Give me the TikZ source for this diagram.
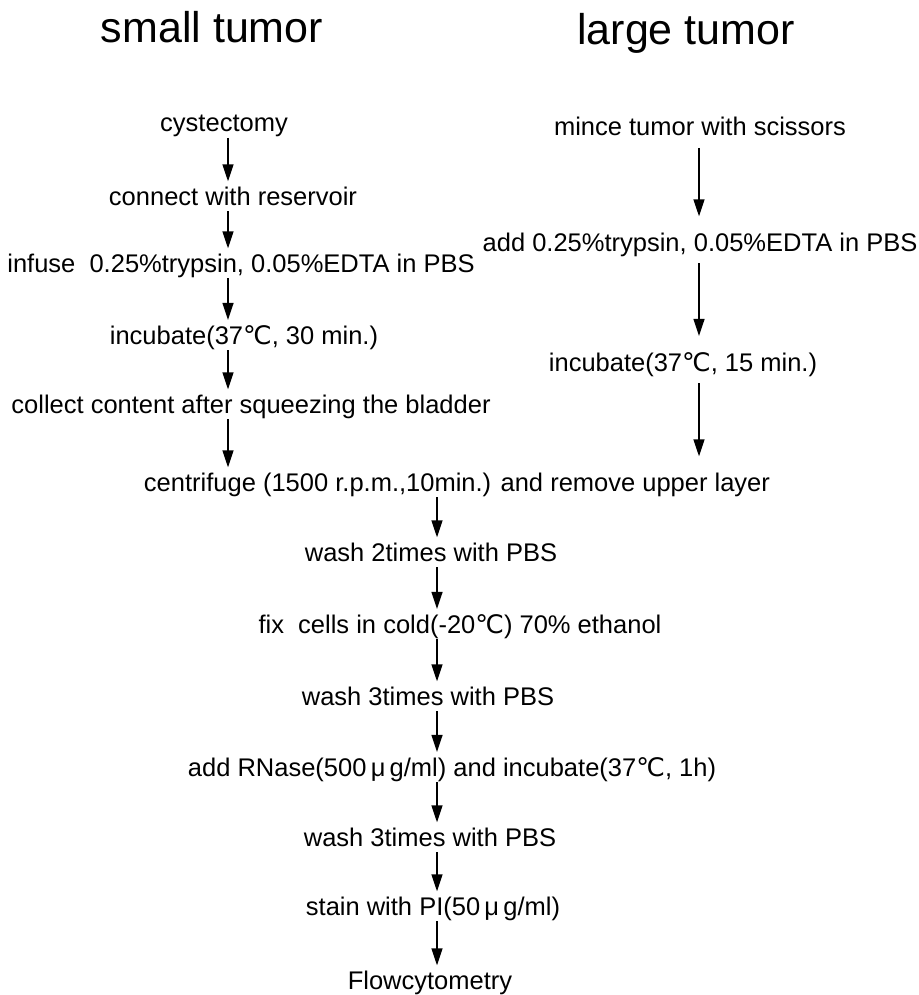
\documentclass[tikz,border=0pt]{standalone}
\usepackage{fontspec}
\setmainfont{Liberation Sans}
\newfontfamily\symfont{DejaVu Sans}
\usetikzlibrary{arrows.meta}
\newcommand{\degc}{{\symfont ℃}}
\begin{document}
\begin{tikzpicture}[x=1pt,y=-1pt,
  txt/.style={inner sep=0pt, anchor=base, font=\fontsize{25.5}{30}\selectfont},
  ttl/.style={inner sep=0pt, anchor=base, font=\fontsize{43}{50}\selectfont},
  flow/.style={line width=1.5pt, -{Triangle[length=17pt,width=11pt]}, shorten <=6pt, shorten >=5pt},
  longflow/.style={flow, shorten <=12pt, shorten >=16pt}]
\useasboundingbox (0,0) rectangle (918,995);
\coordinate (lx) at (228,0);
\coordinate (rx) at (699,0);
\coordinate (cx) at (437,0);
% titles
\node[ttl] (t1) at (212,43) {small tumor};
\node[ttl] (t2) at (686,45) {large tumor};
% left column
\node[txt] (a1) at (224,132) {cystectomy};
\node[txt] (a2) at (233,205) {connect with reservoir};
\node[txt] (a3) at (241,272) {infuse\ \ 0.25\%trypsin, 0.05\%EDTA in PBS};
\node[txt] (a4) at (244,344) {incubate(37\degc, 30 min.)};
\node[txt] (a5) at (251,413) {collect content after squeezing the bladder};
% right column
\node[txt] (b1) at (700,136) {mince tumor with scissors};
\node[txt] (b2) at (700,251) {add 0.25\%trypsin, 0.05\%EDTA in PBS};
\node[txt] (b3) at (683,371) {incubate(37\degc, 15 min.)};
% common
\node[txt] (c1) at (457,491) {centrifuge (1500 r.p.m.,10min.) and remove upper layer};
\node[txt] (c2) at (431,561) {wash 2times with PBS};
\node[txt] (c3) at (460,633) {fix\ \ cells in cold(-20\degc) 70\% ethanol};
\node[txt] (c4) at (428,705) {wash 3times with PBS};
\node[txt] (c5) at (452,776) {add RNase(500\,μ\,g/ml) and incubate(37\degc, 1h)};
\node[txt] (c6) at (430,846) {wash 3times with PBS};
\node[txt] (c7) at (433,915) {stain with PI(50\,μ\,g/ml)};
\node[txt] (c8) at (430,989) {Flowcytometry};
% arrows
\foreach \u/\v in {a1/a2,a2/a3,a3/a4,a4/a5,a5/c1}
  \draw[flow] (\u.base -| lx) -- (\v.north -| lx);
\foreach \u/\v in {b1/b2,b2/b3,b3/c1}
  \draw[longflow] (\u.base -| rx) -- (\v.north -| rx);
\foreach \u/\v in {c1/c2,c2/c3,c3/c4,c4/c5,c5/c6,c6/c7,c7/c8}
  \draw[flow] (\u.base -| cx) -- (\v.north -| cx);
\end{tikzpicture}
\end{document}
